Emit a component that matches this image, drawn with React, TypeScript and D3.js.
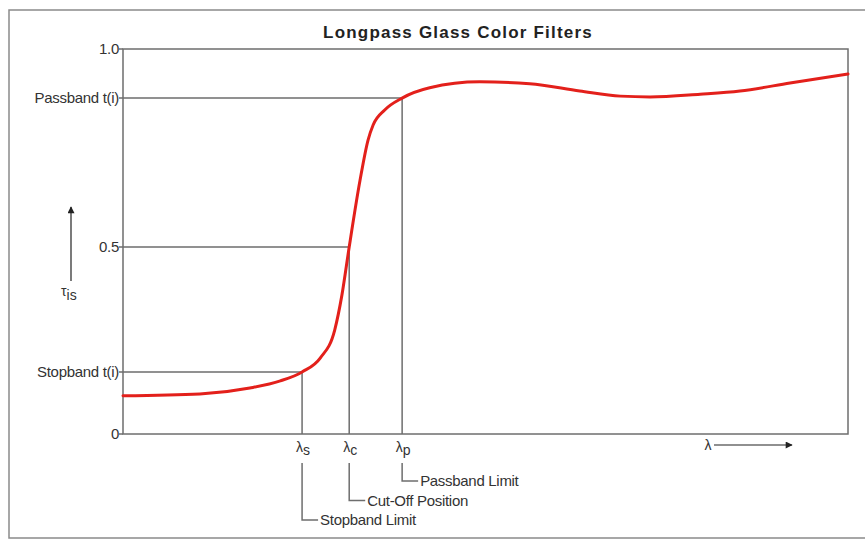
import React, { useRef, useEffect } from 'react';
import * as d3 from 'd3';

// relative wavelength (0-100) and internal transmittance
const wavelength = [0, 10.6, 17.5, 21.7, 24.7, 27.2, 29.2, 30.2, 31.2, 32.7, 33.8, 34.5, 36.1, 38.5, 42.3, 49.2, 56.1, 63.0, 68.6, 72.7, 79.6, 85.1, 92.0, 100];
const transmittance = [0.102, 0.107, 0.123, 0.142, 0.166, 0.203, 0.278, 0.372, 0.5, 0.669, 0.77, 0.808, 0.846, 0.876, 0.902, 0.917, 0.912, 0.894, 0.881, 0.879, 0.886, 0.894, 0.914, 0.937];

// marker levels: label, tau value, wavelength where curve crosses
const levelLabels = ['Passband t(i)', '0.5', 'Stopband t(i)'];
const levelValues = [0.876, 0.5, 0.166];
const levelWavelengths = [38.5, 31.2, 24.7];
const lambdaSubs = ['p', 'c', 's'];
const limitNames = ['Passband Limit', 'Cut-Off Position', 'Stopband Limit'];

const App: React.FC = () => {
  const ref = useRef<SVGSVGElement>(null);

  useEffect(() => {
    const svg = d3.select(ref.current);
    svg.selectAll('*').remove();
    const font = 'Arial, "Liberation Sans", sans-serif';
    const grey = '#6e6e6e';
    const txt = '#333';
    const fs = 15;

    const left = 123, right = 848, top = 49, bottom = 434;
    const x = d3.scaleLinear().domain([0, 100]).range([left, right]);
    const y = d3.scaleLinear().domain([0, 0.5, 1]).range([bottom, 247, top]);

    const defs = svg.append('defs');
    defs.append('marker')
      .attr('id', 'arr')
      .attr('viewBox', '0 0 10 10')
      .attr('refX', 9).attr('refY', 5)
      .attr('markerWidth', 11).attr('markerHeight', 7)
      .attr('markerUnits', 'userSpaceOnUse')
      .attr('orient', 'auto')
      .append('path').attr('d', 'M0,0L10,5L0,10Z').attr('fill', '#222');

    // outer frame
    svg.append('rect')
      .attr('x', 9).attr('y', 10).attr('width', 880).attr('height', 528)
      .attr('fill', 'none').attr('stroke', '#8a8a8a').attr('stroke-width', 1.5);

    svg.append('text')
      .attr('x', 458).attr('y', 38)
      .attr('text-anchor', 'middle')
      .attr('font-family', font).attr('font-weight', 'bold').attr('font-size', 17)
      .attr('letter-spacing', 1.2)
      .attr('fill', '#222')
      .text('Longpass Glass Color Filters');

    // plot frame
    svg.append('rect')
      .attr('x', left).attr('y', top).attr('width', right - left).attr('height', bottom - top)
      .attr('fill', 'none').attr('stroke', grey).attr('stroke-width', 1.5);

    // y ticks (1.0 and 0)
    const yt = svg.append('g');
    [1, 0].forEach((v) => {
      yt.append('line')
        .attr('x1', left - 4).attr('x2', left).attr('y1', y(v)).attr('y2', y(v))
        .attr('stroke', grey).attr('stroke-width', 1.5);
      yt.append('text')
        .attr('x', left - 4).attr('y', y(v)).attr('dy', '0.35em')
        .attr('text-anchor', 'end')
        .attr('font-family', font).attr('font-size', fs).attr('fill', txt)
        .attr('letter-spacing', -0.3)
        .text(v === 1 ? '1.0' : '0');
    });

    // level guide lines
    levelValues.forEach((v, i) => {
      const xp = x(levelWavelengths[i]);
      const yp = y(v);
      svg.append('path')
        .attr('d', `M${left - 4},${yp}H${xp}V${bottom}`)
        .attr('fill', 'none').attr('stroke', grey).attr('stroke-width', 1.5);
      svg.append('text')
        .attr('x', left - 4).attr('y', yp).attr('dy', '0.35em')
        .attr('text-anchor', 'end')
        .attr('font-family', font).attr('font-size', fs).attr('fill', txt)
        .attr('letter-spacing', -0.3)
        .text(levelLabels[i]);

      // lambda label below axis
      const lt = svg.append('text')
        .attr('x', xp + 1).attr('y', 452)
        .attr('text-anchor', 'middle')
        .attr('font-family', font).attr('font-size', 14).attr('fill', txt);
      lt.append('tspan').text('λ');
      lt.append('tspan').attr('dy', 3).attr('font-size', 14).text(lambdaSubs[i]);

      // leader to annotation
      const ly = 481 + i * 19.5;
      svg.append('path')
        .attr('d', `M${xp},463V${ly}H${xp + 16}`)
        .attr('fill', 'none').attr('stroke', grey).attr('stroke-width', 1.5);
      svg.append('text')
        .attr('x', xp + 18).attr('y', ly).attr('dy', '0.35em')
        .attr('font-family', font).attr('font-size', fs).attr('fill', txt)
        .attr('letter-spacing', -0.3)
        .text(limitNames[i]);
    });

    // curve
    const line = d3.line<number>()
      .x((_, i) => x(wavelength[i]))
      .y((d) => y(d))
      .curve(d3.curveMonotoneX);
    svg.append('path')
      .datum(transmittance)
      .attr('d', line)
      .attr('fill', 'none')
      .attr('stroke', '#e3201b')
      .attr('stroke-width', 3)
      .attr('stroke-linecap', 'round');

    // lambda arrow
    svg.append('text')
      .attr('x', 708).attr('y', 445).attr('dy', '0.35em')
      .attr('text-anchor', 'middle')
      .attr('font-family', font).attr('font-size', 14).attr('fill', txt)
      .text('λ');
    svg.append('line')
      .attr('x1', 714).attr('x2', 792).attr('y1', 445).attr('y2', 445)
      .attr('stroke', '#222').attr('stroke-width', 1.2)
      .attr('marker-end', 'url(#arr)');

    // tau arrow
    svg.append('line')
      .attr('x1', 71).attr('x2', 71).attr('y1', 281).attr('y2', 207)
      .attr('stroke', '#222').attr('stroke-width', 1.2)
      .attr('marker-end', 'url(#arr)');
    const tt = svg.append('text')
      .attr('x', 61).attr('y', 296)
      .attr('font-family', font).attr('font-size', 14).attr('fill', txt);
    tt.append('tspan').text('τ');
    tt.append('tspan').attr('dy', 4).attr('font-size', 14).text('is');
  }, []);

  return (
    <div style={{ position: 'absolute', left: 0, top: 0 }}>
      <svg ref={ref} width={865} height={540} style={{ display: 'block', background: '#fff' }} />
    </div>
  );
};

export default App;
